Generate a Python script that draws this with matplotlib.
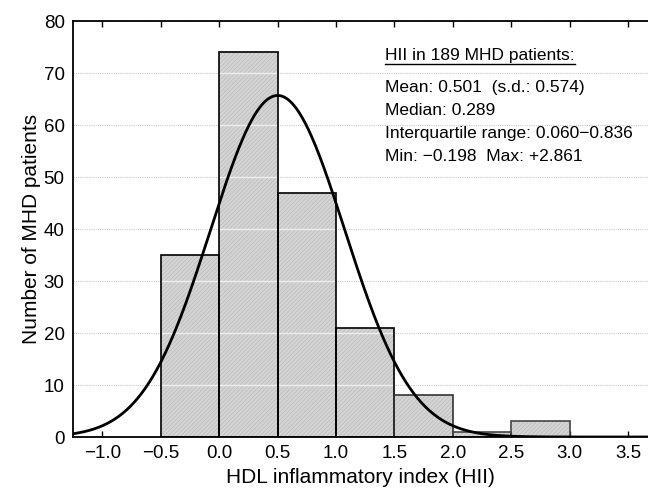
import numpy as np
import matplotlib
matplotlib.use("Agg")
import matplotlib.pyplot as plt

plt.rcParams['font.family'] = ['Liberation Sans', 'DejaVu Sans']
plt.rcParams['hatch.linewidth'] = 0.5

# Data
bin_edges = [-0.5, 0.0, 0.5, 1.0, 1.5, 2.0, 2.5, 3.0]
counts = [35, 74, 47, 21, 8, 1, 3]
n_patients = 189
mean_hii = 0.501
sd_hii = 0.574
xticks = [-1.0, -0.5, 0.0, 0.5, 1.0, 1.5, 2.0, 2.5, 3.0, 3.5]
yticks = [0, 10, 20, 30, 40, 50, 60, 70, 80]
stats_title = "HII in 189 MHD patients:"
stats_lines = ["Mean: 0.501  (s.d.: 0.574)",
               "Median: 0.289",
               "Interquartile range: 0.060\u22120.836",
               "Min: \u22120.198  Max: +2.861"]

fig = plt.figure(figsize=(6.48, 4.93), dpi=100)
ax = fig.add_axes([73/648, 56/493, 1 - 73/648, (437-21)/493])

edge_colors = ['black', 'black', 'black', 'black', '#333333', '#444444', '#444444']
widths = np.diff(bin_edges)
lefts = bin_edges[:-1]
# hatched fill
ax.bar(lefts, counts, width=widths, align='edge', facecolor='#d4d4d4',
       edgecolor='#bcbcbc', linewidth=0, hatch='////////', zorder=2)
# light grid lines showing through the bars
for left, w, c in zip(lefts, widths, counts):
    levels = [y for y in yticks[1:] if y < c]
    if levels:
        ax.hlines(levels, left, left + w, colors='#eeeeee', linewidth=1.0, zorder=2.5)
# outlines
ax.bar(lefts, counts, width=widths, align='edge', fill=False,
       edgecolor=edge_colors, linewidth=1.2, zorder=3)

# fitted normal curve scaled to counts
xs = np.linspace(-1.25, 3.7, 600)
bw = 0.5
pdf = np.exp(-0.5 * ((xs - mean_hii) / sd_hii) ** 2) / (sd_hii * np.sqrt(2 * np.pi))
ax.plot(xs, n_patients * bw * pdf, color='black', linewidth=2.0, zorder=4)

ax.set_xlim(-1.25, 3.67)
ax.set_ylim(0, 80)
ax.set_xticks(xticks)
ax.set_xticklabels([f"{t:.1f}".replace('-', '\u2212') for t in xticks])
ax.set_yticks(yticks)
ax.tick_params(axis='x', direction='in', top=True, length=4, width=1, labelsize=13.5, pad=6)
ax.tick_params(axis='y', direction='in', length=0, labelsize=13.5, pad=6)
ax.yaxis.grid(True, linestyle=(0, (1, 1)), color='#c8c8c8', linewidth=0.8, zorder=1)
ax.set_axisbelow(True)
for s in ['left', 'bottom', 'top']:
    ax.spines[s].set_linewidth(1.3)
    ax.spines[s].set_zorder(5)
ax.spines['right'].set_visible(False)

ax.set_xlabel("HDL inflammatory index (HII)", fontsize=15, labelpad=4)
ax.set_ylabel("Number of MHD patients", fontsize=15, labelpad=2)

# stats text
tx = 0.543
fs = 12.5
t = ax.text(tx, 0.918, stats_title, transform=ax.transAxes, fontsize=fs,
            ha='left', va='center', zorder=5)
fig.canvas.draw()
bb = t.get_window_extent()
inv = ax.transAxes.inverted()
(x0, y0), (x1, y1) = inv.transform([[bb.x0, bb.y0], [bb.x1, bb.y1]])
ax.plot([x0, x1], [y0 - 0.004, y0 - 0.004], transform=ax.transAxes, color='black',
        linewidth=1.0, zorder=5)
for i, line in enumerate(stats_lines):
    ax.text(tx, 0.84 - i * 0.055, line, transform=ax.transAxes, fontsize=fs,
            ha='left', va='center', zorder=5)

fig.savefig("out.png", dpi=100)
